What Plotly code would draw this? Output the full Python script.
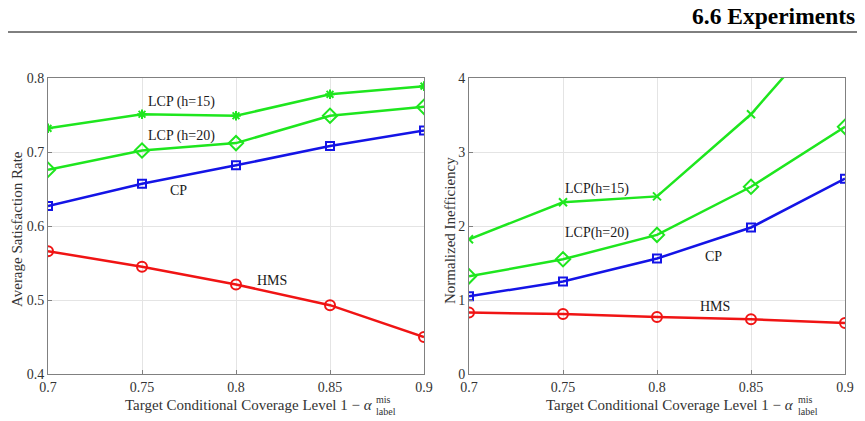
import plotly.graph_objects as go

W, H = 865, 421

levels = [0.7, 0.75, 0.8, 0.85, 0.9]
x_tick_labels = ["0.7", "0.75", "0.8", "0.85", "0.9"]

# Left panel: Average Satisfaction Rate
sat_lcp15 = [0.732, 0.751, 0.749, 0.778, 0.789]
sat_lcp20 = [0.676, 0.702, 0.712, 0.749, 0.761]
sat_cp = [0.627, 0.657, 0.682, 0.708, 0.729]
sat_hms = [0.566, 0.545, 0.521, 0.493, 0.450]
sat_ticks = [0.4, 0.5, 0.6, 0.7, 0.8]

# Right panel: Normalized Inefficiency
ineff_lcp15 = [1.82, 2.32, 2.40, 3.51, 4.96]
ineff_lcp20 = [1.32, 1.55, 1.88, 2.53, 3.34]
ineff_cp = [1.05, 1.25, 1.56, 1.98, 2.64]
ineff_hms = [0.83, 0.81, 0.77, 0.74, 0.69]
ineff_ticks = [0, 1, 2, 3, 4]

GREEN = "#1ee61e"
BLUE = "#1414e6"
RED = "#f01414"
FONT = "Liberation Serif"
AXC = "#808080"
TXT = "#333333"

fig = go.Figure()

def add(x, y, color, symbol, xa, ya, size=8):
    fig.add_trace(go.Scatter(
        x=x, y=y, mode="lines+markers", xaxis=xa, yaxis=ya,
        line=dict(color=color, width=2.5),
        marker=dict(symbol=symbol, size=size, color=color,
                    line=dict(color=color, width=2)),
        showlegend=False, cliponaxis=True))

add(levels, sat_lcp15, GREEN, "asterisk-open", "x", "y", 8)
add(levels, sat_lcp20, GREEN, "diamond-open", "x", "y", 11)
add(levels, sat_cp, BLUE, "square-open", "x", "y", 8)
add(levels, sat_hms, RED, "circle-open", "x", "y", 10)

add(levels, ineff_lcp15, GREEN, "x-thin-open", "x2", "y2", 8)
add(levels, ineff_lcp20, GREEN, "diamond-open", "x2", "y2", 11)
add(levels, ineff_cp, BLUE, "square-open", "x2", "y2", 8)
add(levels, ineff_hms, RED, "circle-open", "x2", "y2", 10)

def px(xp):
    return xp / W

def py(yp):
    return 1 - yp / H

ax_common = dict(showline=True, mirror=True, linecolor=AXC, linewidth=1,
                 showgrid=True, gridcolor="#e4e4e4", gridwidth=1,
                 ticks="inside", ticklen=4, tickcolor=AXC, zeroline=False,
                 automargin=False,
                 tickfont=dict(family=FONT, size=14, color=TXT))

fig.update_layout(
    width=W, height=H, margin=dict(l=0, r=0, t=0, b=0),
    paper_bgcolor="white", plot_bgcolor="white",
    font=dict(family=FONT, color=TXT),
    xaxis=dict(domain=[px(48), px(424)], range=[0.7, 0.9], anchor="y",
               tickvals=levels, ticktext=x_tick_labels, **ax_common),
    yaxis=dict(domain=[py(374), py(78)], range=[0.4, 0.8], anchor="x",
               tickvals=sat_ticks, ticktext=["0.4", "0.5", "0.6", "0.7", "0.8"],
               **ax_common),
    xaxis2=dict(domain=[px(469), px(845)], range=[0.7, 0.9], anchor="y2",
                tickvals=levels, ticktext=x_tick_labels, **ax_common),
    yaxis2=dict(domain=[py(374), py(78)], range=[0, 4], anchor="x2",
                tickvals=ineff_ticks, ticktext=[str(t) for t in ineff_ticks],
                **ax_common),
)

def ann(text, xp, yp, size=14, xanchor="center", yanchor="middle", color="#1a1a1a",
        angle=0):
    fig.add_annotation(text=text, x=px(xp), y=py(yp), xref="paper", yref="paper",
                       showarrow=False, xanchor=xanchor, yanchor=yanchor,
                       textangle=angle,
                       font=dict(family=FONT, size=size, color=color))

# y-axis titles
ann("Average Satisfaction Rate", 17, 229, size=15, color=TXT, angle=-90)
ann("Normalized Inefficiency", 450, 230, size=15, color=TXT, angle=-90)

# series labels, left
ann("LCP (h=15)", 181, 102)
ann("LCP (h=20)", 181, 136)
ann("CP", 178, 191)
ann("HMS", 272, 280)
# series labels, right
ann("LCP(h=15)", 597, 189)
ann("LCP(h=20)", 597, 233)
ann("CP", 713, 256)
ann("HMS", 715, 306)

# x-axis titles with stacked super/subscripts
for x0 in (123, 544):
    ann("Target Conditional Coverage Level 1 − <i>α</i>", x0, 405, size=15,
        xanchor="left", color=TXT)
for xs in (374, 796):
    ann("mis", xs, 399, size=10, xanchor="left", color=TXT)
    ann("label", xs, 411, size=10, xanchor="left", color=TXT)

# header
fig.add_annotation(text="<b>6.6 Experiments</b>", x=px(857), y=py(16), xref="paper",
                   yref="paper", showarrow=False, xanchor="right", yanchor="middle",
                   font=dict(family=FONT, size=23.5, color="black"))
fig.add_shape(type="line", xref="paper", yref="paper", x0=px(8), x1=px(857),
              y0=py(32), y1=py(32), line=dict(color="black", width=1))

fig.write_html("out.html")
